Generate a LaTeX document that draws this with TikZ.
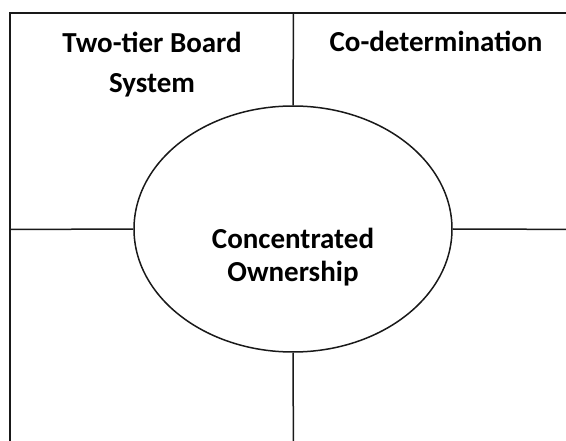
\documentclass[tikz,border=0pt]{standalone}
\usepackage{fontspec}
\setmainfont{Carlito}
\usetikzlibrary{shapes.geometric}
\begin{document}
\begin{tikzpicture}[x=1pt,y=-1pt,
  lin/.style={draw=black!90, line width=1.5pt},
  ell/.style={ellipse, draw=black!90, line width=1.5pt, minimum width=318pt, minimum height=246pt, inner sep=0pt},
  lbl/.style={font=\bfseries\fontsize{29}{40}\selectfont, align=center, inner sep=0pt, anchor=base},
  lblc/.style={font=\bfseries\fontsize{29}{33}\selectfont, align=center, inner sep=0pt, anchor=base}]
\useasboundingbox (0,0) rectangle (566,441);
\clip (0,0) rectangle (566,441);
% frame corners and mid points
\coordinate (bl) at (10,460);
\coordinate (tl) at (10,13);
\coordinate (tr) at (600,13);
\coordinate (tm) at (293.5,13);
\coordinate (bm) at (293.5,460);
\coordinate (lm) at (10,229.5);
\coordinate (rm) at (600,229.5);
\draw[lin] (bl) -- (tl) -- (tr);
\node[ell] (own) at (293,229) {};
\draw[lin] (tm) -- (own.north);
\draw[lin] (own.south) -- (bm);
\draw[lin] (lm) -- (own.west);
\draw[lin] (own.east) -- (rm);
\node[lbl] (two) at (152,93) {Two-tier Board\\System};
\node[lbl] (cod) at (436,52) {Co-determination};
\node[lblc] (con) at (293,281.5) {Concentrated\\Ownership};
\end{tikzpicture}
\end{document}
